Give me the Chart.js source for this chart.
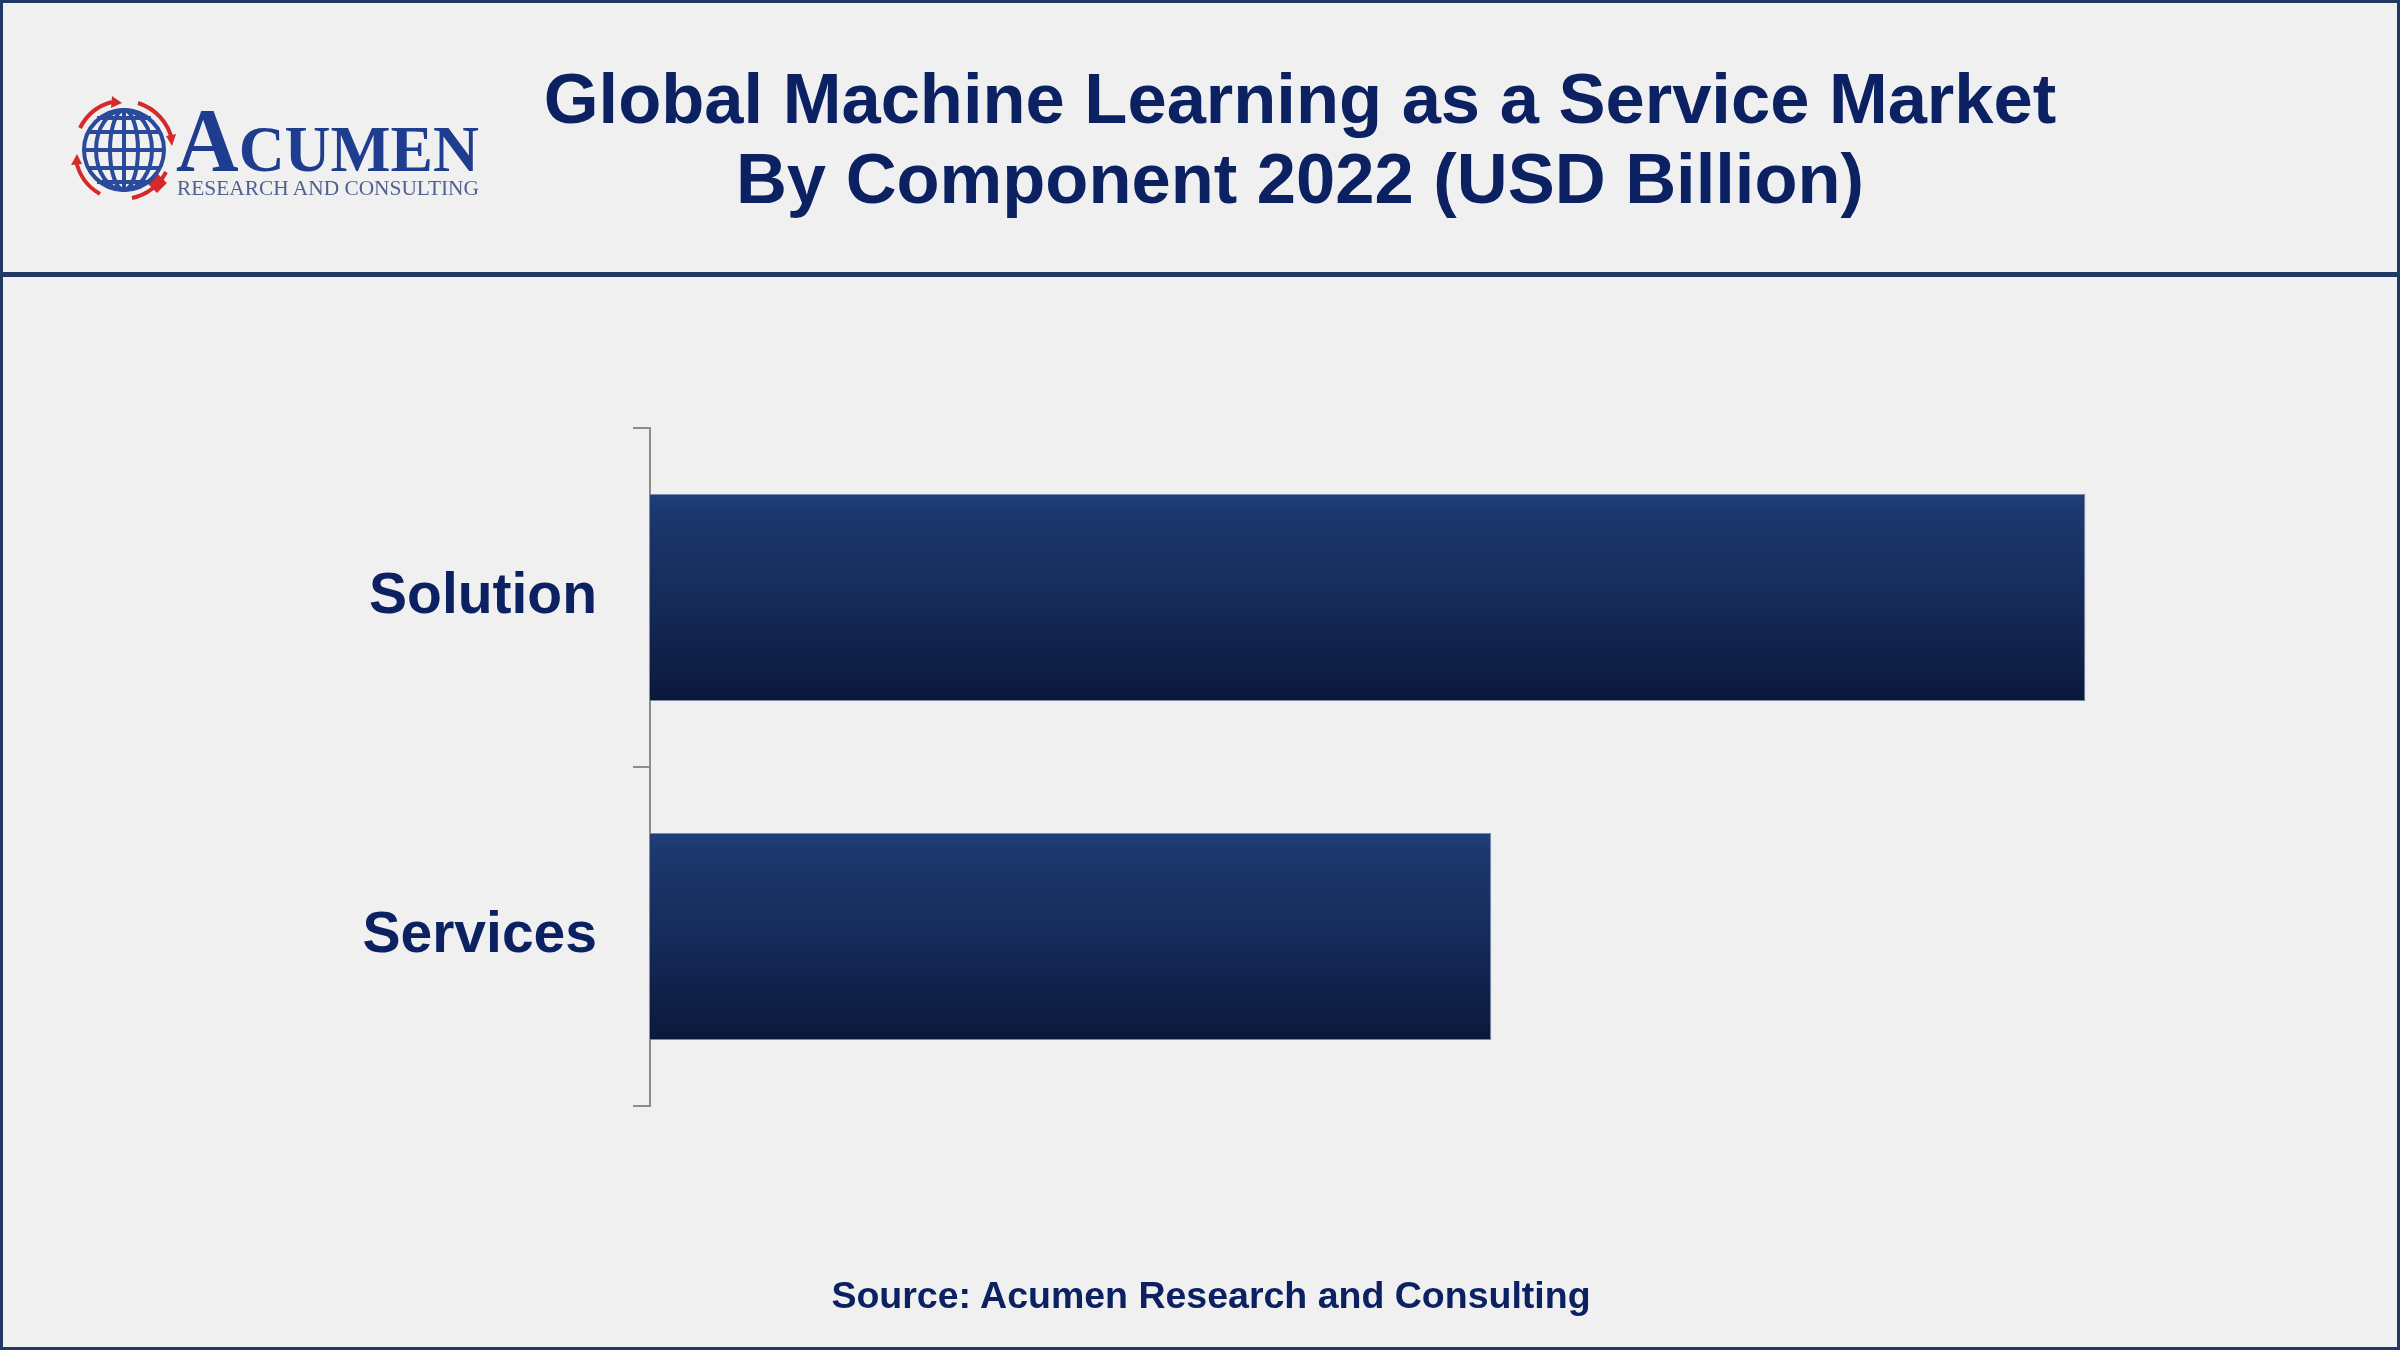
<!DOCTYPE html>
<html>
<head>
<meta charset="utf-8">
<script src="https://cdn.jsdelivr.net/npm/chart.js@4.4.0/dist/chart.umd.min.js"></script>
<style>
  html, body { margin: 0; padding: 0; background: #f0f0f0; }
  #page { position: relative; width: 2400px; height: 1350px; overflow: hidden; font-family: "Liberation Sans", Arial, sans-serif; }
  #frame { position: absolute; left: 0; top: 0; width: 2400px; height: 1350px; box-sizing: border-box; border: 3px solid #1f3864; pointer-events: none; }
  #rule { position: absolute; left: 0; width: 2400px; top: 272px; height: 5px; background: #1f3864; }
  #title { position: absolute; left: 300px; width: 2000px; top: 59px; text-align: center; color: #0b2162; font-size: 70.5px; font-weight: bold; line-height: 80px; }
  #source { position: absolute; left: 0; width: 2422px; top: 1273px; text-align: center; color: #0b2162; font-size: 37.5px; font-weight: bold; line-height: 44px; }
  #logo { position: absolute; left: 0; top: 0; }
  #chart { position: absolute; left: 0; top: 0; }
</style>
</head>
<body>
<div id="page">
  <canvas id="chart" width="2400" height="1350"></canvas>
  <svg id="logo" width="600" height="270" viewBox="0 0 600 270">
    <g fill="none" stroke="#d42a2a" stroke-width="4">
      <path d="M 80 128 A 50 50 0 0 1 112 102" />
      <path d="M 138 103 A 50 50 0 0 1 172 140" />
      <path d="M 166 172 A 50 50 0 0 1 132 198" />
      <path d="M 100 194 A 50 50 0 0 1 76 160" />
    </g>
    <g fill="#d42a2a">
      <path d="M 112 96 L 122 103 L 111 108 Z" />
      <path d="M 176 134 L 172 146 L 166 136 Z" />
      <path d="M 71 165 L 77 154 L 82 164 Z" />
      <rect x="150" y="176" width="14" height="14" transform="rotate(45 157 183)" />
    </g>
    <g fill="none" stroke="#2a4a9c" stroke-width="4">
      <circle cx="124" cy="150" r="40" />
      <ellipse cx="124" cy="150" rx="14" ry="40" />
      <ellipse cx="124" cy="150" rx="28" ry="40" />
      <line x1="124" y1="110" x2="124" y2="190" />
      <line x1="84" y1="150" x2="164" y2="150" />
      <line x1="89" y1="132" x2="159" y2="132" />
      <line x1="89" y1="168" x2="159" y2="168" />
      <line x1="97" y1="118" x2="151" y2="118" />
      <line x1="97" y1="182" x2="151" y2="182" />
    </g>
    <text x="176" y="171" fill="#1f3d8f" font-family="Liberation Serif, Times New Roman, serif" font-weight="bold" textLength="303" lengthAdjust="spacingAndGlyphs"><tspan font-size="90">A</tspan><tspan font-size="66">CUMEN</tspan></text>
    <text x="177" y="195" fill="#51618f" font-family="Liberation Serif, Times New Roman, serif" font-size="20" textLength="302" lengthAdjust="spacingAndGlyphs">RESEARCH AND CONSULTING</text>
  </svg>
  <div id="rule"></div>
  <div id="title">Global Machine Learning as a Service Market<br>By Component 2022 (USD Billion)</div>
  <div id="source">Source: Acumen Research and Consulting</div>
  <div id="frame"></div>
</div>
<script>
const categories = ["Solution", "Services"];
const values = [15.1, 8.85];
const axisMax = 18;
const barShare = 0.61;

function barGradient(ctx) {
  const chart = ctx.chart;
  const y = chart.scales.y;
  if (!y || ctx.dataIndex === undefined) return "#152c5c";
  const center = y.getPixelForValue(ctx.dataIndex);
  const half = (y.height / categories.length) * barShare / 2;
  if (!isFinite(center) || !isFinite(half) || half <= 0) return "#152c5c";
  const g = chart.ctx.createLinearGradient(0, center - half, 0, center + half);
  g.addColorStop(0, "#203f7a");
  g.addColorStop(0.08, "#1c386e");
  g.addColorStop(0.5, "#162b5a");
  g.addColorStop(0.85, "#0e1e45");
  g.addColorStop(1, "#0b1839");
  return g;
}

new Chart(document.getElementById("chart"), {
  type: "bar",
  data: {
    labels: categories,
    datasets: [
      {
        label: "2022",
        data: values,
        backgroundColor: barGradient,
        borderColor: "rgba(110,125,165,0.9)",
        borderWidth: 1,
        barPercentage: 1,
        categoryPercentage: barShare,
      },
    ],
  },
  options: {
    indexAxis: "y",
    responsive: false,
    animation: false,
    layout: {
      padding: { left: 0, top: 428, right: 39, bottom: 244 },
    },
    plugins: {
      legend: { display: false },
      tooltip: { enabled: false },
    },
    scales: {
      x: {
        display: false,
        min: 0,
        max: axisMax,
      },
      y: {
        grid: {
          offset: true,
          drawOnChartArea: false,
          drawTicks: true,
          tickLength: 17,
          color: "#8c8c8c",
          lineWidth: 2,
        },
        border: { display: true, color: "#8c8c8c", width: 2 },
        ticks: {
          color: "#0b2162",
          padding: 36,
          font: { family: "'Liberation Sans', Arial, sans-serif", size: 57, weight: "bold" },
        },
        afterFit: (scale) => {
          scale.width = 650;
        },
      },
    },
  },
});
</script>
</body>
</html>
